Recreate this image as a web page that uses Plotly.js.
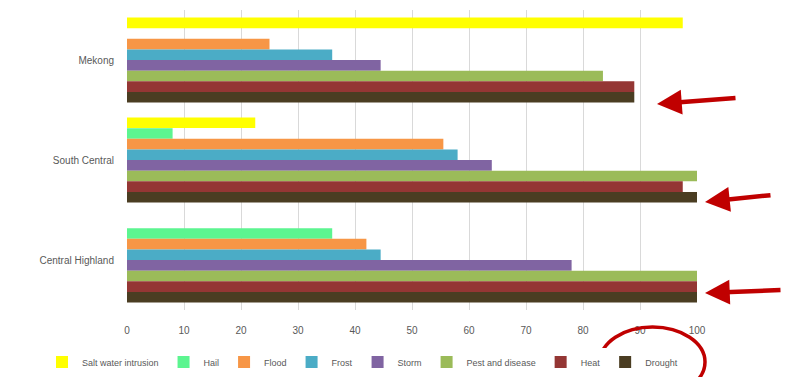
<!DOCTYPE html>
<html><head><meta charset="utf-8">
<script src="https://cdn.plot.ly/plotly-3.0.1.min.js"></script>
<style>html,body{margin:0;padding:0;background:#fff;}#chart{width:786px;height:377px;}</style>
</head><body><div id="chart"></div>
<script>
const regions = ["Mekong", "South Central", "Central Highland"];
const seriesNames = ["Salt water intrusion", "Hail", "Flood", "Frost", "Storm", "Pest and disease", "Heat", "Drought"];
const saltWater = [97.5, 22.5, 0];
const hail = [0, 8, 36];
const flood = [25, 55.5, 42];
const frost = [36, 58, 44.5];
const storm = [44.5, 64, 78];
const pestDisease = [83.5, 100, 100];
const heat = [89, 97.5, 100];
const drought = [89, 100, 100];
const seriesValues = [saltWater, hail, flood, frost, storm, pestDisease, heat, drought];
const colors = ["#FFFF00", "#5CF590", "#F79646", "#4BACC6", "#8064A2", "#9BBB59", "#943634", "#4A3D22"];

const traces = seriesNames.map((n, i) => ({
  type: 'bar', orientation: 'h', name: n, y: regions, x: seriesValues[i],
  marker: {color: colors[i]}, hoverinfo: 'x+name'
}));

const W = 786, L = 127, R = 697, T = 10, B = 310;
const px = v => v / W;
const py = v => (B - v) / (B - T);
const red = '#C00000';
const arrows = [[657, 104, 80, -6], [705, 202, 67, -7], [705, 293, 77, -3]];

const layout = {
  width: W, height: 377,
  margin: {l: 0, r: 0, t: T, b: 377 - B},
  paper_bgcolor: '#fff', plot_bgcolor: '#fff',
  font: {family: 'Liberation Sans, Arial, sans-serif', size: 10, color: '#595959'},
  barmode: 'group', bargap: 0.15, bargroupgap: 0,
  showlegend: true,
  legend: {orientation: 'h', x: 42 / W, xanchor: 'left',
           y: py(362), yanchor: 'middle',
           font: {size: 9, color: '#595959'}, traceorder: 'normal', itemwidth: 30, tracegroupgap: 0},
  xaxis: {domain: [L / W, R / W], range: [0, 100], dtick: 10, tick0: 0, showgrid: true, gridcolor: '#D9D9D9',
          zeroline: false, showline: false, ticks: '', ticklabelstandoff: 13, automargin: false,
          tickfont: {size: 10, color: '#595959'}, fixedrange: true},
  yaxis: {autorange: 'reversed', showgrid: false, showline: false, ticks: '', ticklabelstandoff: 12, automargin: false,
          tickfont: {size: 10, color: '#595959'}, fixedrange: true},
  shapes: [{type: 'circle', xref: 'paper', yref: 'paper',
            x0: px(600), x1: px(705), y0: py(397), y1: py(327),
            line: {color: red, width: 3.5}}],
  annotations: arrows.map(a => ({xref: 'paper', yref: 'paper', x: px(a[0]), y: py(a[1]),
    ax: a[2], ay: a[3], text: '', showarrow: true, arrowhead: 2, arrowsize: 1.1,
    arrowwidth: 4.5, arrowcolor: red}))
};
Plotly.newPlot('chart', traces, layout, {displayModeBar: false, staticPlot: true});
</script></body></html>
